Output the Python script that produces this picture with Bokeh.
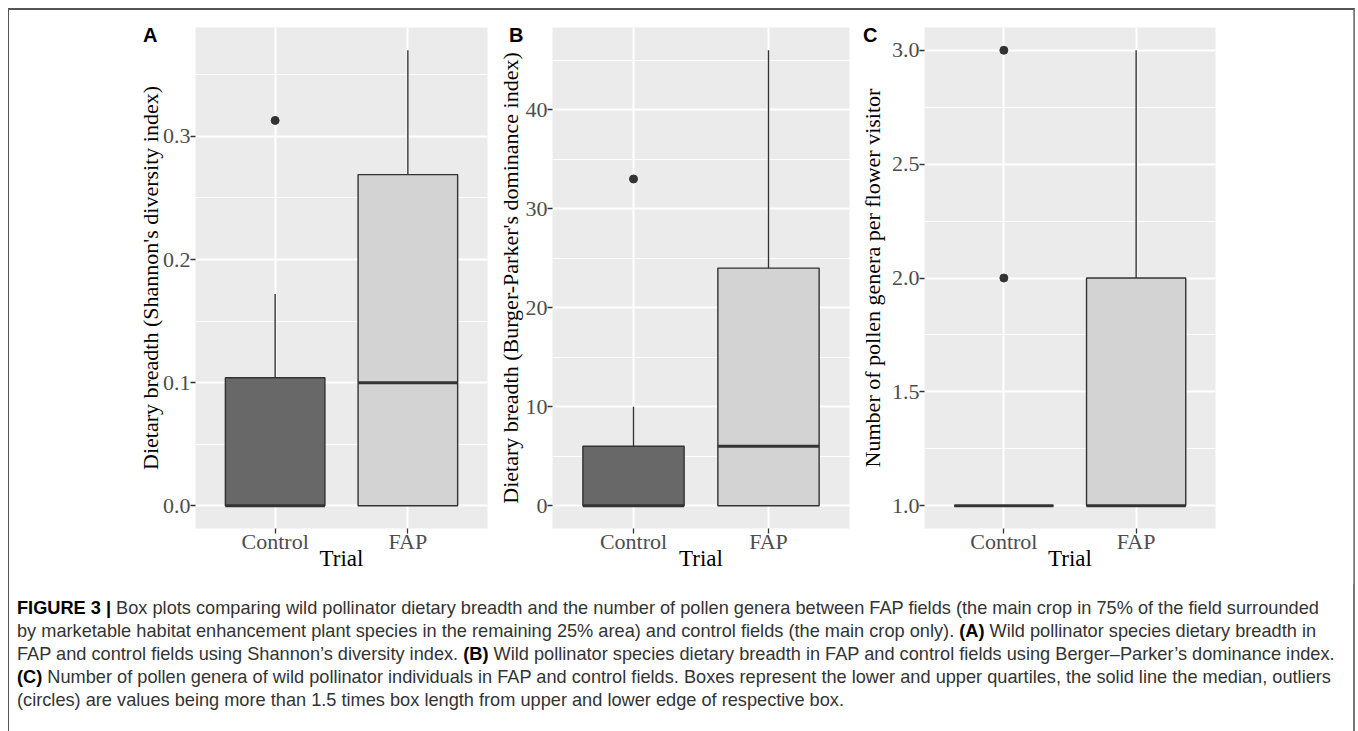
from bokeh.plotting import figure
from bokeh.layouts import row, column
from bokeh.models import Range1d, FixedTicker, Div
from bokeh.embed import file_html
from bokeh.resources import INLINE

categories = ["Control", "FAP"]
box_fill = ["#686868", "#d3d3d3"]
panel_letters = ["A", "B", "C"]

# Panel A: Shannon's diversity index
a_q1 = [0.0, 0.0]
a_med = [0.0, 0.10]
a_q3 = [0.104, 0.269]
a_lo = [0.0, 0.0]
a_hi = [0.172, 0.37]
a_out_cat = ["Control"]
a_out_val = [0.313]
a_ticks = [0.0, 0.1, 0.2, 0.3]
a_tick_labels = ["0.0", "0.1", "0.2", "0.3"]
a_minor = [0.05, 0.15, 0.25, 0.35]

# Panel B: Burger-Parker's dominance index
b_q1 = [0, 0]
b_med = [0, 6]
b_q3 = [6, 24]
b_lo = [0, 0]
b_hi = [10, 46]
b_out_cat = ["Control"]
b_out_val = [33]
b_ticks = [0, 10, 20, 30, 40]
b_tick_labels = ["0", "10", "20", "30", "40"]
b_minor = [5, 15, 25, 35, 45]

# Panel C: number of pollen genera
c_q1 = [1, 1]
c_med = [1, 1]
c_q3 = [1, 2]
c_lo = [1, 1]
c_hi = [1, 3]
c_out_cat = ["Control", "Control"]
c_out_val = [2, 3]
c_ticks = [1.0, 1.5, 2.0, 2.5, 3.0]
c_tick_labels = ["1.0", "1.5", "2.0", "2.5", "3.0"]
c_minor = [1.25, 1.75, 2.25, 2.75]

SERIF = "Liberation Serif"
FRAME_H = 501
BORDER_TOP = 17
BORDER_BOTTOM = 56
BOX_W = 0.75


def panel(ylabel, q1, med, q3, lo, hi, out_cat, out_val, ticks, tick_labels, minor,
          frame_w, b_left, b_right, ylabel_standoff):
    xs = [i + 1 for i in range(len(categories))]
    allv = q1 + q3 + lo + hi + out_val
    vmin, vmax = min(allv), max(allv)
    pad = (vmax - vmin) * 0.05
    y0, y1 = vmin - pad, vmax + pad
    p = figure(frame_width=frame_w, frame_height=FRAME_H,
               x_range=Range1d(0.4, len(categories) + 0.6), y_range=Range1d(y0, y1),
               output_backend="svg", toolbar_location=None,
               min_border_left=b_left, min_border_right=b_right,
               min_border_top=BORDER_TOP, min_border_bottom=BORDER_BOTTOM)
    p.background_fill_color = "#ebebeb"
    p.border_fill_color = "white"
    p.outline_line_color = None
    p.xgrid.grid_line_color = "white"
    p.xgrid.grid_line_width = 2
    p.ygrid.grid_line_color = "white"
    p.ygrid.grid_line_width = 2
    p.ygrid.minor_grid_line_color = "white"
    p.ygrid.minor_grid_line_width = 1

    p.xaxis.ticker = FixedTicker(ticks=xs)
    p.xaxis.major_label_overrides = {x: c for x, c in zip(xs, categories)}
    p.yaxis.ticker = FixedTicker(ticks=ticks, minor_ticks=minor)
    p.yaxis.major_label_overrides = {t: l for t, l in zip(ticks, tick_labels)}
    for ax in (p.xaxis, p.yaxis):
        ax.axis_line_color = None
        ax.major_tick_line_color = "#333333"
        ax.major_tick_line_width = 1.3
        ax.major_tick_out = 5
        ax.major_tick_in = 0
        ax.minor_tick_out = 0
        ax.minor_tick_in = 0
        ax.major_label_text_font = SERIF
        ax.major_label_text_font_size = "22px"
        ax.major_label_text_color = "#4d4d4d"
        ax.axis_label_text_font = SERIF
        ax.axis_label_text_font_style = "normal"
        ax.axis_label_text_color = "black"
    p.xaxis.major_label_standoff = -5
    p.xaxis.axis_label = "Trial"
    p.xaxis.axis_label_text_font_size = "23px"
    p.xaxis.axis_label_standoff = -11
    p.yaxis.major_label_standoff = 0
    p.yaxis.axis_label = ylabel
    p.yaxis.axis_label_text_font_size = "22px"
    p.yaxis.axis_label_standoff = ylabel_standoff

    # whiskers
    p.segment(x0=xs, y0=q3, x1=xs, y1=hi, line_color="#333333", line_width=1.4)
    p.segment(x0=xs, y0=q1, x1=xs, y1=lo, line_color="#333333", line_width=1.4)
    # boxes
    p.vbar(x=xs, width=BOX_W, bottom=q1, top=q3, fill_color=box_fill,
           line_color="#333333", line_width=1.4)
    # medians
    p.segment(x0=[x - BOX_W / 2 for x in xs], y0=med, x1=[x + BOX_W / 2 for x in xs], y1=med,
              line_color="#333333", line_width=3)
    # outliers
    ox = [categories.index(c) + 1 for c in out_cat]
    p.scatter(x=ox, y=out_val, size=8, color="#333333")
    return p


pa = panel("Dietary breadth (Shannon's diversity index)", a_q1, a_med, a_q3, a_lo, a_hi,
           a_out_cat, a_out_val, a_ticks, a_tick_labels, a_minor, 295, 186, 7, -3)
pb = panel("Dietary breadth (Burger-Parker's dominance index)", b_q1, b_med, b_q3, b_lo, b_hi,
           b_out_cat, b_out_val, b_ticks, b_tick_labels, b_minor, 299, 57, 6, 0)
pc = panel("Number of pollen genera per flower visitor", c_q1, c_med, c_q3, c_lo, c_hi,
           c_out_cat, c_out_val, c_ticks, c_tick_labels, c_minor, 294, 62, 138, 4)

# panel letters: overlaid at the top-left of each panel (offsets relative to caption block)
PAD_TOP = 8
fig_h = BORDER_TOP + FRAME_H + BORDER_BOTTOM
letter_top = 20 - (10 + fig_h + PAD_TOP)
letter_left = [126, 492, 846]
letters_html = "<div style='position:relative;height:0;overflow:visible'>" + "".join(
    "<span style=\"position:absolute;left:%dpx;top:%dpx;font-family:'Liberation Sans',Arial,sans-serif;"
    "font-weight:bold;font-size:20px;line-height:20px;color:#000\">%s</span>" % (lx, letter_top, t)
    for lx, t in zip(letter_left, panel_letters)) + "</div>"

caption_lines = [
    "<b style='color:#000'>FIGURE 3 |</b> Box plots comparing wild pollinator dietary breadth and the number of pollen genera between FAP fields (the main crop in 75% of the field surrounded",
    "by marketable habitat enhancement plant species in the remaining 25% area) and control fields (the main crop only). <b style='color:#000'>(A)</b> Wild pollinator species dietary breadth in",
    "FAP and control fields using Shannon\u2019s diversity index. <b style='color:#000'>(B)</b> Wild pollinator species dietary breadth in FAP and control fields using Berger\u2013Parker\u2019s dominance index.",
    "<b style='color:#000'>(C)</b> Number of pollen genera of wild pollinator individuals in FAP and control fields. Boxes represent the lower and upper quartiles, the solid line the median, outliers",
    "(circles) are values being more than 1.5 times box length from upper and lower edge of respective box.",
]
caption = Div(text=letters_html + "<br>".join(caption_lines), width=1335, height=140,
              styles={"font-family": "'Liberation Sans', Arial, sans-serif",
                      "font-size": "18.2px", "line-height": "23px", "color": "#333333",
                      "white-space": "nowrap", "padding-left": "3px",
                      "padding-top": "%dpx" % PAD_TOP, "overflow": "visible"})

layout = column(row(pa, pb, pc), caption, width=1347,
                styles={"margin-top": "8px", "margin-left": "8px",
                        "border-top": "2px solid #555555", "border-left": "1px solid #555555",
                        "border-right": "2px solid #777777"})

open("out.html", "w").write(file_html(layout, INLINE))
